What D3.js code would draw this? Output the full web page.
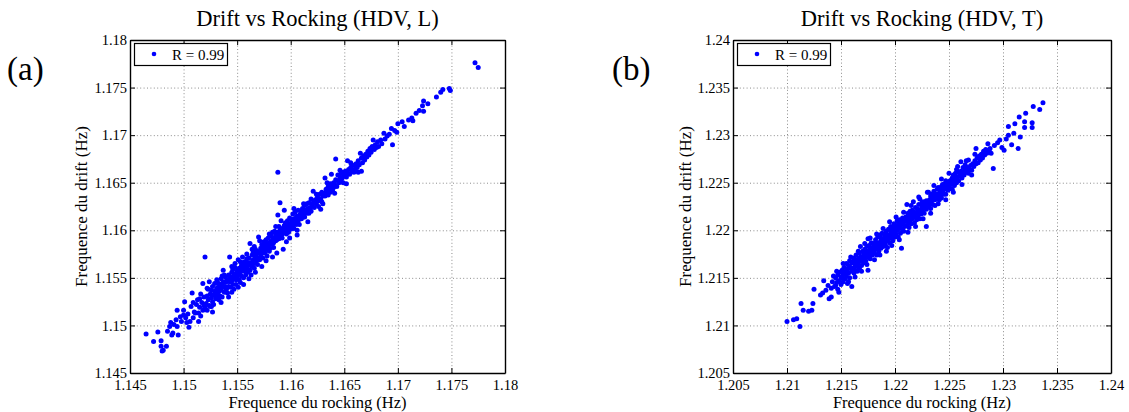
<!DOCTYPE html>
<html>
<head>
<meta charset="utf-8">
<script src="https://cdn.jsdelivr.net/npm/d3@7"></script>
<style>
  html, body { margin: 0; padding: 0; background: #ffffff; }
  svg { display: block; }
</style>
</head>
<body>
<svg id="chart" width="1129" height="412"></svg>
<script>
// ---------------- DATA ----------------
const panelLabels = ["(a)", "(b)"];
const titles = ["Drift vs Rocking (HDV, L)", "Drift vs Rocking (HDV, T)"];
const xAxisTitle = "Frequence du rocking (Hz)";
const yAxisTitle = "Frequence du drift (Hz)";
const legendTexts = ["R = 0.99", "R = 0.99"];

const domainL = [1.145, 1.18];
const domainT = [1.205, 1.24];
const ticksL = [1.145, 1.15, 1.155, 1.16, 1.165, 1.17, 1.175, 1.18];
const tickLabelsL = ["1.145", "1.15", "1.155", "1.16", "1.165", "1.17", "1.175", "1.18"];
const ticksT = [1.205, 1.21, 1.215, 1.22, 1.225, 1.23, 1.235, 1.24];
const tickLabelsT = ["1.205", "1.21", "1.215", "1.22", "1.225", "1.23", "1.235", "1.24"];

// [rocking frequency, drift frequency] — longitudinal (L)
const pointsL = [
[1.1465,1.1491],[1.1472,1.1483],[1.1476,1.1493],[1.1479,1.1484],[1.1481,1.1474],[1.1480,1.1473],[1.1484,1.1478],[1.1479,1.1478],[1.1485,1.1494],[1.1487,1.1499],[1.1489,1.1490],[1.1490,1.1492],[1.1495,1.1490],[1.1494,1.1499],[1.1493,1.1506],[1.1497,1.1509],[1.1494,1.1516],[1.1500,1.1511],[1.1498,1.1504],[1.1491,1.1501],[1.1488,1.1503],
[1.1501,1.1525],[1.1500,1.1516],[1.1503,1.1503],[1.1506,1.1504],[1.1504,1.1512],[1.1507,1.1520],[1.1509,1.1508],[1.1502,1.1508],[1.1508,1.1534],[1.1510,1.1514],[1.1505,1.1498],[1.1509,1.1524],
[1.1511,1.1513],[1.1512,1.1522],[1.1513,1.1527],[1.1514,1.1513],[1.1515,1.1519],[1.1515,1.1528],[1.1516,1.1510],[1.1517,1.1524],[1.1518,1.1516],[1.1518,1.1544],[1.1519,1.1530],[1.1519,1.1521],[1.1520,1.1572],[1.1516,1.1533],[1.1514,1.1504],[1.1520,1.1519],
[1.1521,1.1523],[1.1522,1.1531],[1.1522,1.1516],[1.1523,1.1538],[1.1523,1.1527],[1.1524,1.1546],[1.1524,1.1521],[1.1525,1.1533],[1.1525,1.1520],[1.1526,1.1529],[1.1526,1.1537],[1.1527,1.1525],[1.1527,1.1541],[1.1528,1.1532],[1.1528,1.1522],[1.1529,1.1536],[1.1529,1.1544],[1.1530,1.1528],[1.1530,1.1535],[1.1526,1.1520],
[1.1531,1.1530],[1.1531,1.1539],[1.1532,1.1544],[1.1532,1.1534],[1.1533,1.1527],[1.1533,1.1544],[1.1533,1.1536],[1.1534,1.1540],[1.1534,1.1531],[1.1535,1.1549],[1.1535,1.1537],[1.1536,1.1543],[1.1536,1.1530],[1.1537,1.1558],[1.1537,1.1540],[1.1538,1.1535],[1.1538,1.1546],[1.1539,1.1541],[1.1539,1.1551],[1.1540,1.1538],[1.1540,1.1546],[1.1541,1.1534],[1.1536,1.1552],
[1.1541,1.1548],[1.1542,1.1553],[1.1542,1.1541],[1.1543,1.1546],[1.1543,1.1572],[1.1544,1.1551],[1.1544,1.1540],[1.1545,1.1556],[1.1545,1.1547],[1.1546,1.1543],[1.1546,1.1559],[1.1547,1.1550],[1.1547,1.1538],[1.1548,1.1554],[1.1548,1.1561],[1.1549,1.1548],[1.1549,1.1543],[1.1550,1.1557],[1.1550,1.1551],[1.1545,1.1562],
[1.1551,1.1569],[1.1551,1.1554],[1.1552,1.1548],[1.1552,1.1560],[1.1553,1.1556],[1.1553,1.1545],[1.1554,1.1563],[1.1554,1.1552],[1.1555,1.1558],[1.1555,1.1566],[1.1556,1.1550],[1.1556,1.1561],[1.1557,1.1557],[1.1557,1.1567],[1.1558,1.1564],[1.1558,1.1553],[1.1559,1.1560],[1.1560,1.1566],[1.1560,1.1556],[1.1559,1.1570],[1.1555,1.1572],
[1.1561,1.1563],[1.1561,1.1571],[1.1562,1.1586],[1.1562,1.1558],[1.1563,1.1553],[1.1563,1.1566],[1.1564,1.1574],[1.1564,1.1562],[1.1565,1.1569],[1.1565,1.1577],[1.1566,1.1565],[1.1566,1.1560],[1.1567,1.1572],[1.1567,1.1580],[1.1568,1.1568],[1.1568,1.1575],[1.1569,1.1564],[1.1569,1.1578],[1.1570,1.1593],[1.1570,1.1571],[1.1566,1.1583],
[1.1571,1.1576],[1.1571,1.1569],[1.1572,1.1581],[1.1572,1.1574],[1.1573,1.1585],[1.1573,1.1578],[1.1574,1.1571],[1.1574,1.1582],[1.1575,1.1579],[1.1575,1.1588],[1.1576,1.1576],[1.1576,1.1584],[1.1577,1.1590],[1.1577,1.1580],[1.1578,1.1573],[1.1578,1.1586],[1.1579,1.1582],[1.1579,1.1592],[1.1580,1.1585],[1.1580,1.1578],
[1.1581,1.1588],[1.1581,1.1581],[1.1582,1.1594],[1.1582,1.1586],[1.1583,1.1590],[1.1583,1.1598],[1.1584,1.1587],[1.1584,1.1582],[1.1585,1.1592],[1.1585,1.1599],[1.1586,1.1589],[1.1586,1.1596],[1.1587,1.1576],[1.1587,1.1593],[1.1588,1.1661],[1.1588,1.1598],[1.1588,1.1616],[1.1589,1.1591],[1.1589,1.1604],[1.1590,1.1595],[1.1590,1.1629],[1.1590,1.1600],
[1.1591,1.1597],[1.1592,1.1602],[1.1592,1.1592],[1.1593,1.1580],[1.1593,1.1598],[1.1594,1.1621],[1.1594,1.1605],[1.1595,1.1600],[1.1595,1.1608],[1.1596,1.1596],[1.1596,1.1603],[1.1597,1.1610],[1.1597,1.1601],[1.1598,1.1606],[1.1598,1.1598],[1.1599,1.1604],[1.1599,1.1613],[1.1600,1.1607],[1.1600,1.1601],
[1.1601,1.1610],[1.1601,1.1604],[1.1602,1.1617],[1.1602,1.1608],[1.1603,1.1602],[1.1603,1.1612],[1.1604,1.1609],[1.1604,1.1619],[1.1605,1.1606],[1.1605,1.1613],[1.1606,1.1600],[1.1606,1.1615],[1.1607,1.1610],[1.1607,1.1621],[1.1608,1.1613],[1.1608,1.1606],[1.1609,1.1617],[1.1610,1.1612],[1.1610,1.1620],
[1.1611,1.1616],[1.1611,1.1623],[1.1612,1.1619],[1.1613,1.1614],[1.1613,1.1626],[1.1614,1.1621],[1.1615,1.1618],[1.1615,1.1628],[1.1616,1.1623],[1.1617,1.1618],[1.1617,1.1629],[1.1618,1.1624],[1.1619,1.1620],[1.1619,1.1633],[1.1620,1.1627],[1.1621,1.1641],
[1.1621,1.1629],[1.1622,1.1624],[1.1623,1.1632],[1.1624,1.1628],[1.1625,1.1635],[1.1626,1.1625],[1.1626,1.1631],[1.1627,1.1638],[1.1628,1.1633],[1.1629,1.1630],[1.1629,1.1640],[1.1630,1.1636],[1.1630,1.1628],
[1.1631,1.1639],[1.1632,1.1655],[1.1632,1.1636],[1.1633,1.1643],[1.1634,1.1640],[1.1635,1.1646],[1.1635,1.1637],[1.1636,1.1643],[1.1637,1.1649],[1.1637,1.1640],[1.1638,1.1659],[1.1638,1.1646],[1.1639,1.1642],[1.1640,1.1650],[1.1640,1.1645],
[1.1641,1.1648],[1.1642,1.1675],[1.1642,1.1653],[1.1643,1.1646],[1.1644,1.1652],[1.1644,1.1658],[1.1645,1.1650],[1.1646,1.1656],[1.1647,1.1652],[1.1647,1.1660],[1.1648,1.1655],[1.1649,1.1650],[1.1649,1.1661],[1.1650,1.1657],
[1.1651,1.1662],[1.1652,1.1656],[1.1653,1.1673],[1.1653,1.1660],[1.1654,1.1664],[1.1655,1.1659],[1.1656,1.1666],[1.1657,1.1662],[1.1657,1.1669],[1.1658,1.1664],[1.1659,1.1661],[1.1660,1.1668],[1.1660,1.1664],
[1.1661,1.1670],[1.1662,1.1666],[1.1663,1.1673],[1.1664,1.1669],[1.1665,1.1681],[1.1666,1.1662],[1.1666,1.1676],[1.1667,1.1671],[1.1668,1.1678],[1.1669,1.1674],[1.1670,1.1680],
[1.1671,1.1677],[1.1672,1.1683],[1.1673,1.1679],[1.1674,1.1686],[1.1675,1.1682],[1.1676,1.1688],[1.1677,1.1695],[1.1678,1.1685],[1.1679,1.1690],[1.1680,1.1687],
[1.1681,1.1693],[1.1682,1.1688],[1.1684,1.1695],[1.1685,1.1691],[1.1687,1.1702],[1.1688,1.1696],[1.1690,1.1699],[1.1692,1.1701],[1.1694,1.1707],[1.1695,1.1690],[1.1697,1.1705],[1.1699,1.1703],
[1.1700,1.1712],[1.1704,1.1714],[1.1706,1.1709],[1.1710,1.1716],[1.1713,1.1718],[1.1714,1.1715],[1.1717,1.1723],[1.1720,1.1726],[1.1724,1.1725],[1.1723,1.1731],[1.1724,1.1736],[1.1728,1.1733],[1.1736,1.1740],[1.1740,1.1745],[1.1742,1.1748],[1.1748,1.1749],[1.1749,1.1747],[1.1772,1.1776],[1.1775,1.1771],
[1.1522,1.1539],[1.1527,1.1514],[1.1531,1.1548],[1.1535,1.1524],[1.1538,1.1553],[1.1542,1.1530],[1.1545,1.1535],[1.1548,1.1565],[1.1551,1.1540],[1.1553,1.1567],[1.1556,1.1543],[1.1559,1.1575],[1.1561,1.1549],[1.1564,1.1580],[1.1567,1.1556],[1.1571,1.1589],[1.1573,1.1562],[1.1577,1.1568],[1.1580,1.1596],[1.1583,1.1572],[1.1586,1.1604],[1.1591,1.1610],[1.1596,1.1588],[1.1599,1.1592],[1.1603,1.1623],[1.1606,1.1595],[1.1612,1.1628],[1.1616,1.1609],[1.1624,1.1638],[1.1628,1.1622],[1.1634,1.1650],[1.1641,1.1639],[1.1646,1.1663],[1.1652,1.1649],[1.1656,1.1671],[1.1663,1.1661],
[1.1532,1.1539],[1.1537,1.1545],[1.1543,1.1549],[1.1547,1.1554],[1.1552,1.1556],[1.1557,1.1562],[1.1562,1.1566],[1.1568,1.1571],[1.1573,1.1576],[1.1578,1.1581],[1.1583,1.1586],[1.1587,1.1590],[1.1592,1.1596],[1.1597,1.1603],[1.1602,1.1605],[1.1607,1.1614],[1.1612,1.1614],[1.1618,1.1621]
];

// [rocking frequency, drift frequency] — transverse (T)
const pointsT = [
[1.2100,1.2104],[1.2106,1.2106],[1.2109,1.2107],[1.2112,1.2099],[1.2113,1.2123],[1.2115,1.2116],[1.2120,1.2115],[1.2123,1.2116],[1.2124,1.2123],[1.2125,1.2138],[1.2131,1.2132],[1.2134,1.2147],[1.2136,1.2137],[1.2139,1.2128],[1.2141,1.2130],[1.2138,1.2142],[1.2133,1.2134],
[1.2141,1.2139],[1.2142,1.2146],[1.2143,1.2152],[1.2144,1.2141],[1.2145,1.2142],[1.2145,1.2150],[1.2146,1.2145],[1.2147,1.2138],[1.2147,1.2153],[1.2148,1.2147],[1.2149,1.2156],[1.2150,1.2143],[1.2150,1.2151],[1.2146,1.2157],
[1.2151,1.2150],[1.2151,1.2158],[1.2152,1.2154],[1.2152,1.2146],[1.2153,1.2161],[1.2154,1.2149],[1.2154,1.2156],[1.2155,1.2165],[1.2155,1.2152],[1.2156,1.2159],[1.2156,1.2144],[1.2157,1.2163],[1.2157,1.2155],[1.2158,1.2168],[1.2158,1.2150],[1.2159,1.2160],[1.2160,1.2141],[1.2160,1.2157],[1.2160,1.2166],
[1.2161,1.2160],[1.2161,1.2167],[1.2162,1.2155],[1.2162,1.2171],[1.2163,1.2163],[1.2163,1.2158],[1.2164,1.2168],[1.2164,1.2174],[1.2165,1.2162],[1.2165,1.2157],[1.2166,1.2170],[1.2166,1.2165],[1.2167,1.2176],[1.2167,1.2160],[1.2168,1.2183],[1.2168,1.2168],[1.2169,1.2172],[1.2169,1.2163],[1.2170,1.2178],[1.2170,1.2169],
[1.2171,1.2166],[1.2171,1.2175],[1.2172,1.2171],[1.2172,1.2180],[1.2173,1.2168],[1.2173,1.2176],[1.2174,1.2183],[1.2174,1.2172],[1.2175,1.2191],[1.2175,1.2158],[1.2175,1.2178],[1.2176,1.2174],[1.2176,1.2184],[1.2177,1.2180],[1.2177,1.2170],[1.2178,1.2177],[1.2178,1.2187],[1.2179,1.2182],[1.2179,1.2174],[1.2180,1.2179],[1.2180,1.2186],
[1.2181,1.2176],[1.2181,1.2184],[1.2182,1.2190],[1.2182,1.2180],[1.2183,1.2174],[1.2183,1.2186],[1.2184,1.2182],[1.2184,1.2193],[1.2185,1.2187],[1.2185,1.2178],[1.2186,1.2184],[1.2186,1.2195],[1.2187,1.2189],[1.2187,1.2181],[1.2188,1.2186],[1.2188,1.2197],[1.2189,1.2191],[1.2189,1.2183],[1.2190,1.2188],[1.2190,1.2196],
[1.2191,1.2185],[1.2191,1.2193],[1.2192,1.2199],[1.2192,1.2189],[1.2193,1.2182],[1.2193,1.2195],[1.2194,1.2191],[1.2194,1.2201],[1.2195,1.2194],[1.2195,1.2187],[1.2196,1.2197],[1.2196,1.2204],[1.2197,1.2192],[1.2197,1.2199],[1.2198,1.2189],[1.2198,1.2203],[1.2199,1.2196],[1.2199,1.2207],[1.2200,1.2200],[1.2200,1.2193],
[1.2201,1.2196],[1.2201,1.2204],[1.2202,1.2210],[1.2202,1.2200],[1.2203,1.2193],[1.2203,1.2206],[1.2204,1.2202],[1.2204,1.2211],[1.2205,1.2205],[1.2205,1.2197],[1.2206,1.2181],[1.2206,1.2208],[1.2207,1.2201],[1.2207,1.2213],[1.2208,1.2206],[1.2208,1.2199],[1.2209,1.2210],[1.2209,1.2204],[1.2210,1.2214],[1.2211,1.2227],
[1.2211,1.2205],[1.2211,1.2212],[1.2212,1.2209],[1.2212,1.2218],[1.2213,1.2203],[1.2213,1.2214],[1.2214,1.2210],[1.2214,1.2220],[1.2215,1.2215],[1.2215,1.2207],[1.2216,1.2212],[1.2216,1.2221],[1.2217,1.2230],[1.2217,1.2216],[1.2218,1.2208],[1.2218,1.2219],[1.2219,1.2214],[1.2219,1.2224],[1.2220,1.2218],[1.2220,1.2211],
[1.2221,1.2215],[1.2221,1.2222],[1.2222,1.2219],[1.2222,1.2227],[1.2223,1.2233],[1.2223,1.2212],[1.2224,1.2222],[1.2224,1.2217],[1.2225,1.2226],[1.2225,1.2220],[1.2226,1.2230],[1.2226,1.2223],[1.2227,1.2218],[1.2227,1.2228],[1.2228,1.2225],[1.2229,1.2204],[1.2229,1.2231],[1.2229,1.2222],[1.2230,1.2228],
[1.2231,1.2240],[1.2231,1.2225],[1.2232,1.2232],[1.2232,1.2228],[1.2233,1.2236],[1.2233,1.2223],[1.2234,1.2231],[1.2234,1.2238],[1.2235,1.2234],[1.2235,1.2227],[1.2236,1.2236],[1.2236,1.2241],[1.2237,1.2232],[1.2237,1.2226],[1.2238,1.2238],[1.2239,1.2235],[1.2239,1.2243],[1.2240,1.2245],[1.2240,1.2233],
[1.2241,1.2239],[1.2241,1.2232],[1.2242,1.2242],[1.2242,1.2237],[1.2243,1.2246],[1.2243,1.2234],[1.2244,1.2241],[1.2244,1.2248],[1.2245,1.2244],[1.2245,1.2238],[1.2246,1.2249],[1.2246,1.2243],[1.2247,1.2238],[1.2247,1.2252],[1.2248,1.2246],[1.2249,1.2250],[1.2249,1.2242],[1.2250,1.2248],
[1.2251,1.2244],[1.2251,1.2252],[1.2252,1.2248],[1.2253,1.2255],[1.2253,1.2243],[1.2254,1.2251],[1.2254,1.2258],[1.2255,1.2247],[1.2256,1.2254],[1.2256,1.2260],[1.2257,1.2264],[1.2257,1.2250],[1.2258,1.2256],[1.2259,1.2252],[1.2259,1.2261],[1.2260,1.2257],
[1.2261,1.2272],[1.2261,1.2262],[1.2262,1.2255],[1.2263,1.2260],[1.2263,1.2266],[1.2264,1.2258],[1.2265,1.2263],[1.2265,1.2269],[1.2266,1.2261],[1.2267,1.2266],[1.2268,1.2274],[1.2268,1.2260],[1.2269,1.2264],[1.2270,1.2268],
[1.2271,1.2263],[1.2272,1.2270],[1.2273,1.2267],[1.2274,1.2273],[1.2275,1.2286],[1.2275,1.2270],[1.2276,1.2276],[1.2277,1.2271],[1.2278,1.2278],[1.2279,1.2274],[1.2280,1.2280],
[1.2281,1.2276],[1.2282,1.2283],[1.2283,1.2279],[1.2284,1.2285],[1.2285,1.2281],[1.2286,1.2291],[1.2287,1.2284],[1.2288,1.2286],[1.2289,1.2281],[1.2291,1.2265],
[1.2292,1.2289],[1.2295,1.2292],[1.2297,1.2295],[1.2299,1.2287],[1.2301,1.2284],[1.2305,1.2300],[1.2305,1.2309],[1.2303,1.2296],[1.2310,1.2302],[1.2308,1.2290],[1.2314,1.2286],[1.2316,1.2298],[1.2311,1.2312],[1.2315,1.2319],[1.2321,1.2323],[1.2320,1.2314],[1.2320,1.2308],[1.2327,1.2313],[1.2327,1.2308],[1.2328,1.2330],[1.2334,1.2327],[1.2337,1.2334],
[1.2148,1.2135],[1.2152,1.2165],[1.2157,1.2146],[1.2159,1.2172],[1.2163,1.2151],[1.2166,1.2178],[1.2169,1.2157],[1.2172,1.2186],[1.2174,1.2164],[1.2177,1.2192],[1.2181,1.2169],[1.2183,1.2196],[1.2186,1.2174],[1.2189,1.2202],[1.2192,1.2178],[1.2195,1.2209],[1.2197,1.2184],[1.2201,1.2214],[1.2204,1.2190],[1.2208,1.2219],[1.2212,1.2198],[1.2215,1.2226],[1.2219,1.2204],[1.2222,1.2235],[1.2226,1.2212],[1.2230,1.2240],[1.2233,1.2218],[1.2236,1.2247],[1.2240,1.2228],[1.2243,1.2254],[1.2247,1.2232],[1.2250,1.2260],[1.2254,1.2240],[1.2258,1.2267],[1.2262,1.2248],[1.2266,1.2273],[1.2271,1.2258],[1.2274,1.2280],
[1.2153,1.2156],[1.2158,1.2162],[1.2164,1.2165],[1.2168,1.2172],[1.2173,1.2173],[1.2178,1.2181],[1.2183,1.2183],[1.2187,1.2192],[1.2192,1.2193],[1.2196,1.2201],[1.2202,1.2203],[1.2206,1.2210],[1.2211,1.2210],[1.2216,1.2218],[1.2221,1.2219],[1.2225,1.2229],[1.2231,1.2229],[1.2235,1.2238],[1.2241,1.2236],[1.2245,1.2247],[1.2251,1.2249],[1.2255,1.2256],[1.2262,1.2259],[1.2267,1.2264]
];

// ---------------- DRAWING ----------------
const svg = d3.select("#chart");
const FONT = "Liberation Serif";

const panels = [
  { box: { left: 130, right: 505, top: 40, bottom: 373 }, domain: domainL, ticks: ticksL, tickLabels: tickLabelsL,
    points: pointsL, title: titles[0], tag: panelLabels[0], tagX: 7, yLabelX: 81, legend: legendTexts[0] },
  { box: { left: 733, right: 1111, top: 40, bottom: 373 }, domain: domainT, ticks: ticksT, tickLabels: tickLabelsT,
    points: pointsT, title: titles[1], tag: panelLabels[1], tagX: 612, yLabelX: 685, legend: legendTexts[1] }
];

function txt(sel, size) {
  return sel.style("font-family", FONT).style("font-size", size + "px").style("fill", "#000");
}

panels.forEach(p => {
  const b = p.box;
  const w = b.right - b.left, h = b.bottom - b.top;
  const x = d3.scaleLinear().domain(p.domain).range([b.left, b.right]);
  const y = d3.scaleLinear().domain(p.domain).range([b.bottom, b.top]);
  const fmt = d => p.tickLabels[p.ticks.indexOf(d)];
  const inner = p.ticks.slice(1, -1);

  // grid (dotted)
  const gx = svg.append("g").attr("transform", `translate(0,${b.bottom})`)
    .call(d3.axisBottom(x).tickValues(inner).tickSize(-h).tickFormat(""));
  const gy = svg.append("g").attr("transform", `translate(${b.left},0)`)
    .call(d3.axisLeft(y).tickValues(inner).tickSize(-w).tickFormat(""));
  [gx, gy].forEach(g => {
    g.select(".domain").remove();
    g.selectAll("text").remove();
    g.selectAll("line").attr("stroke", "#8c8c8c").attr("stroke-width", 1).attr("stroke-dasharray", "1,2.4");
  });

  // points
  svg.append("g").selectAll("circle").data(p.points).join("circle")
    .attr("cx", d => x(d[0])).attr("cy", d => y(d[1])).attr("r", 2.5)
    .attr("fill", "#0000ff");

  // axes with inward ticks on all four sides
  const axB = svg.append("g").attr("transform", `translate(0,${b.bottom})`)
    .call(d3.axisBottom(x).tickValues(p.ticks).tickSize(-5).tickSizeOuter(0).tickFormat(fmt));
  const axL = svg.append("g").attr("transform", `translate(${b.left},0)`)
    .call(d3.axisLeft(y).tickValues(p.ticks).tickSize(-5).tickSizeOuter(0).tickFormat(fmt));
  const axT = svg.append("g").attr("transform", `translate(0,${b.top})`)
    .call(d3.axisTop(x).tickValues(p.ticks).tickSize(-5).tickSizeOuter(0).tickFormat(""));
  const axR = svg.append("g").attr("transform", `translate(${b.right},0)`)
    .call(d3.axisRight(y).tickValues(p.ticks).tickSize(-5).tickSizeOuter(0).tickFormat(""));
  axT.selectAll("text").remove();
  axR.selectAll("text").remove();
  [axB, axL, axT, axR].forEach(g => {
    g.select(".domain").attr("stroke", "#000").attr("stroke-width", 1.4);
    g.selectAll(".tick line").attr("stroke", "#000").attr("stroke-width", 1);
  });
  txt(axB.selectAll(".tick text"), 14.5).attr("y", 17).attr("dy", null);
  txt(axL.selectAll(".tick text"), 14.5).attr("x", -3);

  // title
  txt(svg.append("text").attr("x", (b.left + b.right) / 2).attr("y", 26)
    .attr("text-anchor", "middle"), 22.5).text(p.title);
  // x label
  txt(svg.append("text").attr("x", (b.left + b.right) / 2).attr("y", 408)
    .attr("text-anchor", "middle"), 16.5).text(xAxisTitle);
  // y label
  txt(svg.append("text").attr("transform", `translate(${p.yLabelX + 6},${(b.top + b.bottom) / 2}) rotate(-90)`)
    .attr("text-anchor", "middle"), 17).text(yAxisTitle);
  // panel tag
  txt(svg.append("text").attr("x", p.tagX).attr("y", 80), 33).text(p.tag);

  // legend
  const lg = svg.append("g").attr("transform", `translate(${b.left + 4},${b.top + 3})`);
  lg.append("rect").attr("x", 0.5).attr("y", 0.5).attr("width", 93).attr("height", 22)
    .attr("fill", "#fff").attr("stroke", "#000").attr("stroke-width", 1.2);
  lg.append("circle").attr("cx", 20).attr("cy", 11).attr("r", 2.3).attr("fill", "#0000ff");
  txt(lg.append("text").attr("x", 38).attr("y", 17), 15).text(p.legend);
});
</script>
</body>
</html>
